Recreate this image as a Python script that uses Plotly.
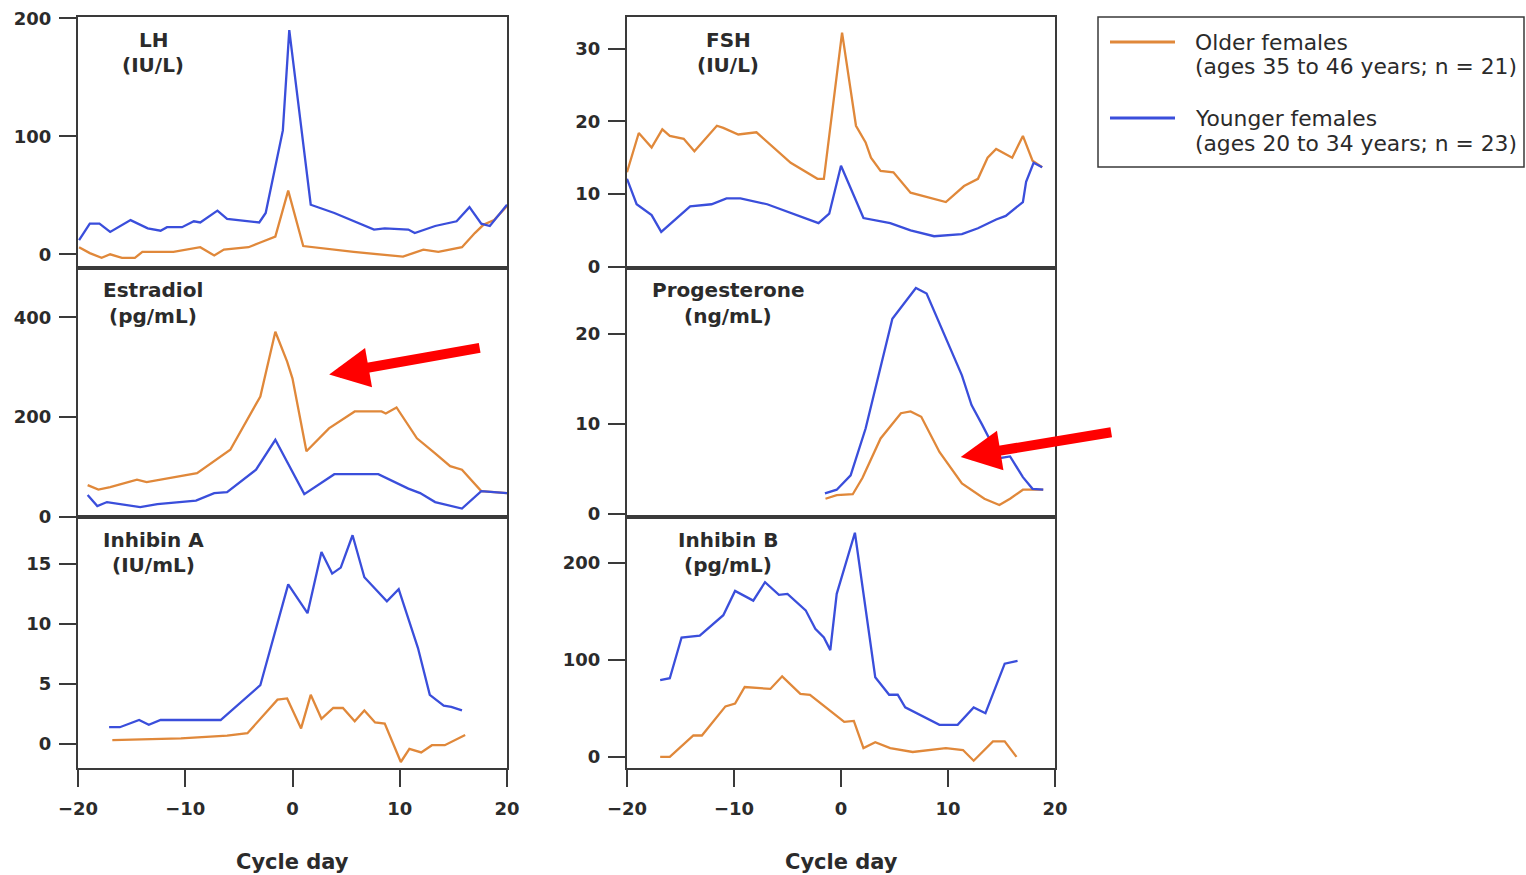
import plotly.graph_objects as go

W, H = 1526, 875

# ---------------- data ----------------
lh_young_day = [-19.9, -18.9, -18, -17, -15.1, -13.5, -12.3, -11.7, -10.3, -9.2, -8.6, -7, -6.1, -3.1, -2.5,
                -0.9, -0.3, 1.7, 3.9, 7.6, 8.6, 10.8, 11.4, 13.3, 15.3, 16.5, 17.6, 18.4, 20]
lh_young_val = [12, 26, 26, 19, 29, 22, 20, 23, 23, 28, 27, 37, 30, 27, 35,
                105, 190, 42, 35, 21, 22, 21, 18, 24, 28, 40, 26, 24, 42]
lh_old_day = [-19.9, -18.9, -17.8, -17, -15.9, -14.7, -14, -11.1, -8.6, -7.3, -6.4, -4.1, -3, -1.6, -0.4,
              1, 5.7, 10.3, 12.2, 13.6, 15.8, 17, 17.8, 18.8, 20]
lh_old_val = [6, 1, -3, 0, -3, -3, 2, 2, 6, -1, 4, 6, 10, 15, 54,
              7, 2, -2, 4, 2, 6, 18, 25, 29, 41]

fsh_old_day = [-20, -18.9, -17.7, -16.7, -16, -14.7, -13.7, -11.6, -11, -9.6, -7.9, -6.3, -4.7, -2.2, -1.6,
               0.1, 1.4, 2.3, 2.8, 3.7, 4.9, 6.5, 9.8, 11.5, 12.8, 13.7, 14.5, 16, 17, 17.9, 18.8]
fsh_old_val = [13, 18.4, 16.4, 18.9, 18, 17.6, 15.9, 19.4, 19.1, 18.2, 18.5, 16.4, 14.3, 12.1, 12.1,
               32.2, 19.4, 17.1, 15, 13.2, 13, 10.2, 8.9, 11.1, 12.1, 15, 16.2, 15, 18, 14.6, 13.7]
fsh_young_day = [-20, -19.1, -17.7, -16.8, -14.1, -12.1, -10.7, -9.4, -6.9, -4.4, -2.1, -1.1, 0, 2.1, 4.6,
                 6.5, 8.7, 11.3, 12.8, 14.5, 15.4, 17, 17.3, 18, 18.8]
fsh_young_val = [12.1, 8.6, 7.1, 4.8, 8.3, 8.6, 9.4, 9.4, 8.6, 7.3, 6, 7.3, 13.9, 6.7, 6,
                 5, 4.2, 4.5, 5.3, 6.5, 7, 8.9, 11.7, 14.3, 13.7]

e2_old_day = [-19.1, -18.1, -17, -14.5, -13.6, -8.9, -5.8, -3, -1.6, -0.5, 0, 1.3, 3.4, 5.8, 8.3, 8.7,
              9.7, 11.6, 13.3, 14.7, 15.8, 17.6, 20]
e2_old_val = [63, 54, 59, 74, 69, 87, 134, 241, 371, 311, 277, 131, 177, 211, 211, 207,
              219, 157, 127, 101, 94, 51, 47]
e2_young_day = [-19.1, -18.2, -17.3, -14.2, -12.6, -9, -7.3, -6.1, -3.4, -1.6, 1.1, 3.9, 8, 10.8, 11.9,
                13.3, 15.8, 17.6, 20]
e2_young_val = [43, 21, 29, 19, 25, 32, 47, 49, 94, 154, 45, 85, 85, 56, 47,
                29, 16, 51, 47]

p4_young_day = [-1.5, -0.4, 0.9, 2.3, 4.8, 7, 8, 11.3, 12.2, 13.2, 14.8, 15.8, 17, 17.9, 18.9]
p4_young_val = [2.3, 2.7, 4.3, 9.5, 21.7, 25.1, 24.5, 15.4, 12.1, 9.9, 6.2, 6.4, 4.1, 2.8, 2.7]
p4_old_day = [-1.45, -0.4, 1.1, 2, 3.7, 5.6, 6.5, 7.5, 9.2, 11.3, 13.4, 14.8, 15.8, 17, 18.9]
p4_old_val = [1.7, 2.1, 2.2, 4, 8.4, 11.2, 11.4, 10.8, 6.9, 3.4, 1.7, 1, 1.7, 2.7, 2.7]

inha_young_day = [-17.1, -16.1, -14.3, -13.4, -12.3, -6.7, -3, -0.4, 1.4, 2.7, 3.7, 4.5, 5.6, 6.7, 8.8,
                  9.9, 11.7, 12.8, 14.1, 14.8, 15.8]
inha_young_val = [1.4, 1.4, 2, 1.6, 2, 2, 4.9, 13.3, 10.9, 16, 14.2, 14.7, 17.4, 13.9, 11.9,
                  12.9, 8, 4.1, 3.2, 3.1, 2.8]
inha_old_day = [-16.8, -10.4, -6.1, -4.2, -1.4, -0.5, 0.8, 1.7, 2.7, 3.8, 4.7, 5.8, 6.7, 7.7, 8.6,
                10.1, 10.9, 12, 13, 14.2, 16.1]
inha_old_val = [0.33, 0.47, 0.7, 0.9, 3.7, 3.8, 1.3, 4.1, 2.1, 3, 3, 1.9, 2.8, 1.8, 1.7,
                -1.5, -0.4, -0.7, -0.1, -0.1, 0.75]

inhb_young_day = [-16.9, -16, -14.9, -13.2, -11, -9.9, -8.2, -7.1, -5.8, -5, -3.3, -2.4, -1.6, -1, -0.4,
                  1.3, 3.2, 4.5, 5.3, 6, 9.2, 10.9, 12.4, 13.5, 15.3, 16.5]
inhb_young_val = [79, 81, 123, 125, 146, 171, 161, 180, 167, 168, 151, 132, 123, 110, 168,
                  231, 82, 64, 64, 51, 33, 33, 51, 45, 96, 99]
inhb_old_day = [-16.9, -16, -13.8, -13, -10.8, -9.9, -9, -6.6, -5.5, -3.8, -2.9, 0.3, 1.2, 2.1, 3.2,
                4.6, 6.7, 9.8, 11.4, 12.4, 14.2, 15.3, 16.4]
inhb_old_val = [0, 0, 22, 22, 52, 55, 72, 70, 83, 65, 64, 36, 37, 9, 15,
                9, 5, 9, 7, -4, 16, 16, 0]

panel_titles = [("LH", "(IU/L)"), ("FSH", "(IU/L)"), ("Estradiol", "(pg/mL)"),
                ("Progesterone", "(ng/mL)"), ("Inhibin A", "(IU/mL)"), ("Inhibin B", "(pg/mL)")]
y_ticks = [[0, 100, 200], [0, 10, 20, 30], [0, 200, 400], [0, 10, 20], [0, 5, 10, 15], [0, 100, 200]]
x_ticks = [-20, -10, 0, 10, 20]
legend_labels = [("Older females", "(ages 35 to 46 years; n = 21)"),
                 ("Younger females", "(ages 20 to 34 years; n = 23)")]
x_title = "Cycle day"

# ---------------- styling ----------------
ORANGE = "#E0883A"
BLUE = "#3A4EDB"
AX = "#3a3a3a"
TXT = "#2b2b2b"
FONT = "DejaVu Sans"

panels = [
    (lh_old_day, lh_old_val, lh_young_day, lh_young_val),
    (fsh_old_day, fsh_old_val, fsh_young_day, fsh_young_val),
    (e2_old_day, e2_old_val, e2_young_day, e2_young_val),
    (p4_old_day, p4_old_val, p4_young_day, p4_young_val),
    (inha_old_day, inha_old_val, inha_young_day, inha_young_val),
    (inhb_old_day, inhb_old_val, inhb_young_day, inhb_young_val),
]
y_ranges = [[-11.6, 201.1], [-0.17, 34.36], [-1, 499], [-0.33, 27.33], [-2.0, 18.92], [-11.5, 247.2]]

def px(xp):
    return xp / W

def py(yp):
    return 1 - yp / H

col_dom = [[px(78), px(507)], [px(627), px(1055)]]
row_dom = [[py(268), py(17)], [py(517), py(268)], [py(768), py(517)]]

fig = go.Figure()
layout = dict(width=W, height=H, margin=dict(l=0, r=0, t=0, b=0, autoexpand=False),
              paper_bgcolor="white", plot_bgcolor="white", showlegend=False)

for i, (od, ov, yd, yv) in enumerate(panels):
    n = i + 1
    xa = "x" if n == 1 else f"x{n}"
    ya = "y" if n == 1 else f"y{n}"
    fig.add_trace(go.Scatter(x=od, y=ov, mode="lines", line=dict(color=ORANGE, width=2.3),
                             xaxis=xa, yaxis=ya, name=legend_labels[0][0]))
    fig.add_trace(go.Scatter(x=yd, y=yv, mode="lines", line=dict(color=BLUE, width=2.3),
                             xaxis=xa, yaxis=ya, name=legend_labels[1][0]))
    col = i % 2
    row = i // 2
    bottom = row == 2
    xkey = "xaxis" if n == 1 else f"xaxis{n}"
    ykey = "yaxis" if n == 1 else f"yaxis{n}"
    layout[xkey] = dict(domain=col_dom[col], anchor=ya, range=[-20, 20], automargin=False,
                        showline=True, mirror=True, linecolor=AX, linewidth=2,
                        showgrid=False, zeroline=False,
                        tickvals=x_ticks if bottom else [],
                        ticks="outside" if bottom else "", ticklen=17, tickwidth=2, tickcolor=AX,
                        showticklabels=bottom, ticklabelstandoff=6,
                        tickfont=dict(family=FONT, size=18, color=TXT, weight="bold"))
    layout[ykey] = dict(domain=row_dom[row], anchor=xa, range=y_ranges[i], automargin=False,
                        showline=True, mirror=True, linecolor=AX, linewidth=2,
                        showgrid=False, zeroline=False, tickvals=y_ticks[i],
                        ticks="outside", ticklen=17, tickwidth=2, tickcolor=AX,
                        ticklabelstandoff=4,
                        tickfont=dict(family=FONT, size=18, color=TXT, weight="bold"))

fig.update_layout(**layout)

annotations = []
shapes = []
title_x = [153, 728]
title_y = [(40, 65), (290, 316), (540, 565)]
for i, (t1, t2) in enumerate(panel_titles):
    col = i % 2
    row = i // 2
    for txt, yy in ((t1, title_y[row][0]), (t2, title_y[row][1])):
        annotations.append(dict(x=px(title_x[col]), y=py(yy), xref="paper", yref="paper",
                                text=f"<b>{txt}</b>", showarrow=False, xanchor="center",
                                yanchor="middle", font=dict(family=FONT, size=20, color=TXT)))

for xc in (292, 841):
    annotations.append(dict(x=px(xc), y=py(862), xref="paper", yref="paper",
                            text=f"<b>{x_title}</b>", showarrow=False, xanchor="center",
                            yanchor="middle", font=dict(family=FONT, size=21, color=TXT)))

# legend (drawn manually to match the reference's long line samples)
shapes.append(dict(type="rect", xref="paper", yref="paper", x0=px(1098), x1=px(1524),
                   y0=py(167), y1=py(17), line=dict(color=AX, width=1.5), fillcolor="white"))
for (l1, l2), color, y1 in ((legend_labels[0], ORANGE, 42), (legend_labels[1], BLUE, 118)):
    shapes.append(dict(type="line", xref="paper", yref="paper", x0=px(1110), x1=px(1175),
                       y0=py(y1), y1=py(y1), line=dict(color=color, width=3)))
    for txt, yy in ((l1, y1), (l2, y1 + 25)):
        annotations.append(dict(x=px(1193), y=py(yy), xref="paper", yref="paper", text=txt,
                                showarrow=False, xanchor="left", yanchor="middle",
                                font=dict(family=FONT, size=21.8, color=TXT)))

# red arrows
for xr, yr, hx, hy, ax, ay in (("x3", "y3", 3.42, 285, 152, -27), ("x4", "y4", 11.19, 6.33, 152, -25)):
    annotations.append(dict(x=hx, y=hy, xref=xr, yref=yr, ax=ax, ay=ay, axref="pixel", ayref="pixel",
                            showarrow=True, arrowhead=2, arrowsize=0.8, arrowwidth=10,
                            arrowcolor="#FF0000", text=""))

fig.update_layout(annotations=annotations, shapes=shapes)
fig.write_html("out.html")
